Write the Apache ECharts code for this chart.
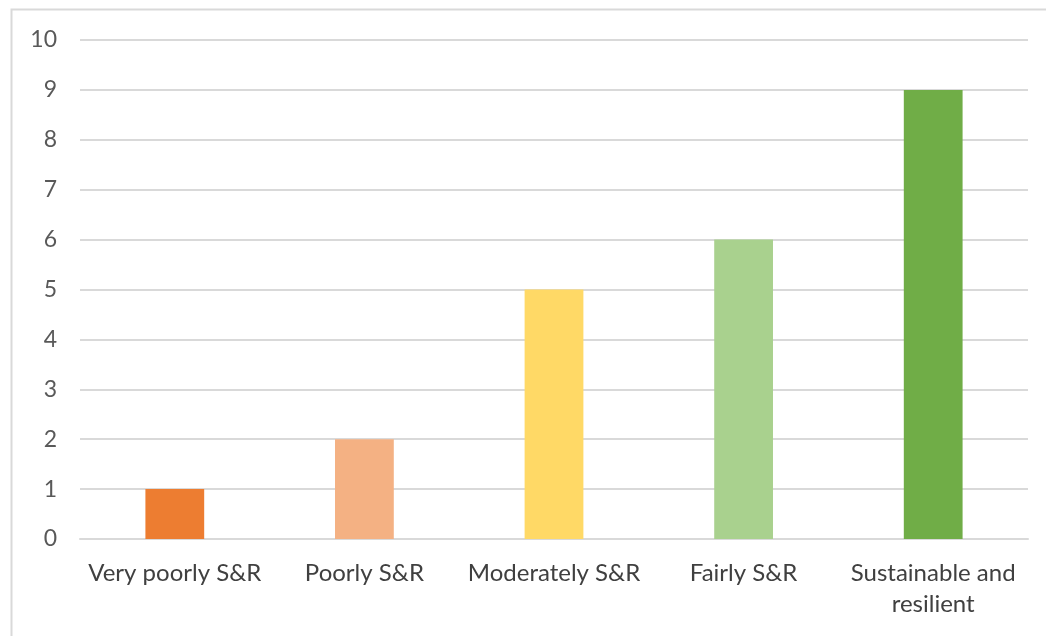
<!DOCTYPE html>
<html>
<head>
<meta charset="utf-8">
<script src="https://cdn.jsdelivr.net/npm/echarts@6/dist/echarts.min.js"></script>
<style>
  html, body { margin: 0; padding: 0; background: #fff; }
  #chart { width: 1046px; height: 636px; }
</style>
</head>
<body>
<div id="chart"></div>
<script>
const categories = ['Very poorly S&R', 'Poorly S&R', 'Moderately S&R', 'Fairly S&R', 'Sustainable and\nresilient'];
const values = [1, 2, 5, 6, 9];
const barColors = ['#ED7D31', '#F4B183', '#FFD966', '#A9D18E', '#70AD47'];

const chart = echarts.init(document.getElementById('chart'));

chart.setOption({
  animation: false,
  graphic: [
    {
      type: 'rect',
      left: 9,
      top: 7,
      shape: { width: 1060, height: 660 },
      style: { fill: 'none', stroke: '#d9d9d9', lineWidth: 2 },
      silent: true
    }
  ],
  grid: {
    left: 80,
    right: 18,
    top: 40,
    bottom: 97
  },
  xAxis: {
    type: 'category',
    data: categories,
    axisLine: { lineStyle: { color: '#d9d9d9', width: 2 } },
    axisTick: { show: false },
    axisLabel: {
      color: '#404040',
      fontFamily: 'Lato',
      fontSize: 24,
      margin: 19,
      lineHeight: 31,
      interval: 0
    }
  },
  yAxis: {
    type: 'value',
    min: 0,
    max: 10,
    interval: 1,
    axisLine: { show: false },
    axisTick: { show: false },
    splitLine: { lineStyle: { color: '#d9d9d9', width: 2 } },
    axisLabel: {
      color: '#595959',
      fontFamily: 'Lato',
      fontSize: 23,
      margin: 23
    }
  },
  series: [
    {
      type: 'bar',
      barWidth: '31%',
      data: values.map((v, i) => ({ value: v, itemStyle: { color: barColors[i] } }))
    }
  ]
});
</script>
</body>
</html>
